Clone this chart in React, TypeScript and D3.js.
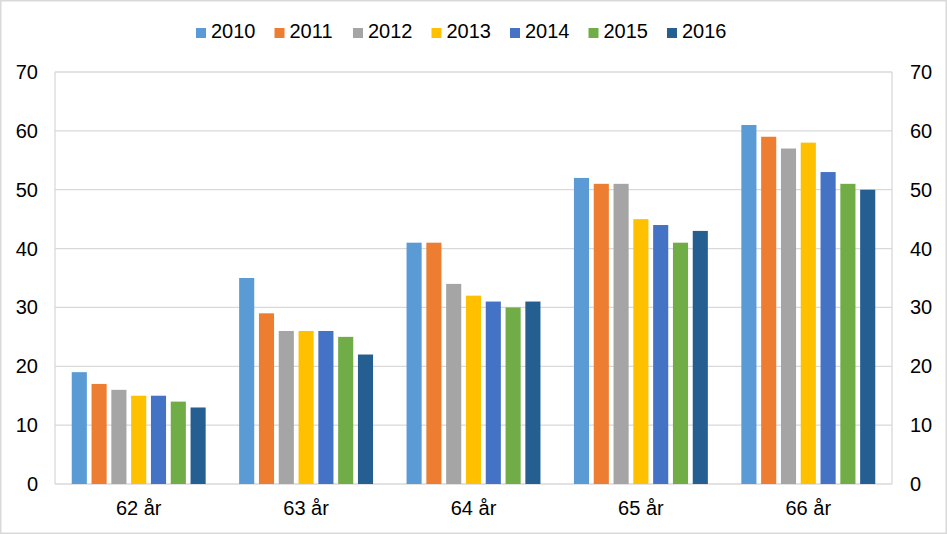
import React from 'react';
import * as d3 from 'd3';

const categories = ['62 år', '63 år', '64 år', '65 år', '66 år'];
const years = ['2010', '2011', '2012', '2013', '2014', '2015', '2016'];
const yearColors = ['#5B9BD5', '#ED7D31', '#A5A5A5', '#FFC000', '#4472C4', '#70AD47', '#255E91'];

// one array per series (year), values per age category
const v2010 = [19, 35, 41, 52, 61];
const v2011 = [17, 29, 41, 51, 59];
const v2012 = [16, 26, 34, 51, 57];
const v2013 = [15, 26, 32, 45, 58];
const v2014 = [15, 26, 31, 44, 53];
const v2015 = [14, 25, 30, 41, 51];
const v2016 = [13, 22, 31, 43, 50];
const seriesValues = [v2010, v2011, v2012, v2013, v2014, v2015, v2016];

const yTicks = [0, 10, 20, 30, 40, 50, 60, 70];

const width = 947;
const height = 534;
const margin = { top: 72, right: 55, bottom: 50, left: 55 };
const font = '"Liberation Sans", Arial, sans-serif';
const gridColor = '#D9D9D9';

export default function App() {
    const x0 = d3.scaleBand<string>()
        .domain(categories)
        .range([margin.left, width - margin.right])
        .paddingInner(0.2)
        .paddingOuter(0.1);

    const x1 = d3.scaleBand<string>()
        .domain(years)
        .range([0, x0.bandwidth()])
        .paddingInner(0.237);

    const y = d3.scaleLinear()
        .domain([0, 70])
        .range([height - margin.bottom, margin.top]);

    const left = margin.left;
    const right = width - margin.right;

    // legend layout
    const legendStart = 196;
    const legendStep = 78.5;

    return (
        <svg
            width={width}
            height={height}
            style={{ position: 'absolute', top: 0, left: 0, background: '#fff' }}
            fontFamily={font}
        >
            <rect x={0.75} y={0.75} width={width - 1.5} height={height - 1.5}
                  fill="#fff" stroke={gridColor} strokeWidth={1.5} />

            {/* gridlines */}
            <g stroke={gridColor} strokeWidth={1.3}>
                {yTicks.map(t => (
                    <line key={t} x1={left} x2={right} y1={y(t)} y2={y(t)} />
                ))}
                <line x1={left} x2={left} y1={y(70)} y2={y(0)} />
                <line x1={right} x2={right} y1={y(70)} y2={y(0)} />
            </g>

            {/* bars */}
            {years.map((yr, si) => (
                <g key={yr} fill={yearColors[si]}>
                    {categories.map((c, ci) => (
                        <rect
                            key={c}
                            x={(x0(c) ?? 0) + (x1(yr) ?? 0)}
                            y={y(seriesValues[si][ci])}
                            width={x1.bandwidth()}
                            height={y(0) - y(seriesValues[si][ci])}
                        />
                    ))}
                </g>
            ))}

            {/* y labels left and right */}
            <g fontSize={20} fill="#000">
                {yTicks.map(t => (
                    <text key={'l' + t} x={38} y={y(t) + 7} textAnchor="end">{t}</text>
                ))}
                {yTicks.map(t => (
                    <text key={'r' + t} x={910} y={y(t) + 7} textAnchor="start">{t}</text>
                ))}
            </g>

            {/* x labels */}
            <g fontSize={20} fill="#000">
                {categories.map(c => (
                    <text key={c} x={(x0(c) ?? 0) + x0.bandwidth() / 2} y={515} textAnchor="middle">{c}</text>
                ))}
            </g>

            {/* legend */}
            <g fontSize={20} fill="#000">
                {years.map((yr, i) => (
                    <g key={yr} transform={`translate(${legendStart + i * legendStep},0)`}>
                        <rect x={0} y={28} width={10} height={10} fill={yearColors[i]} />
                        <text x={15} y={38}>{yr}</text>
                    </g>
                ))}
            </g>
        </svg>
    );
}
